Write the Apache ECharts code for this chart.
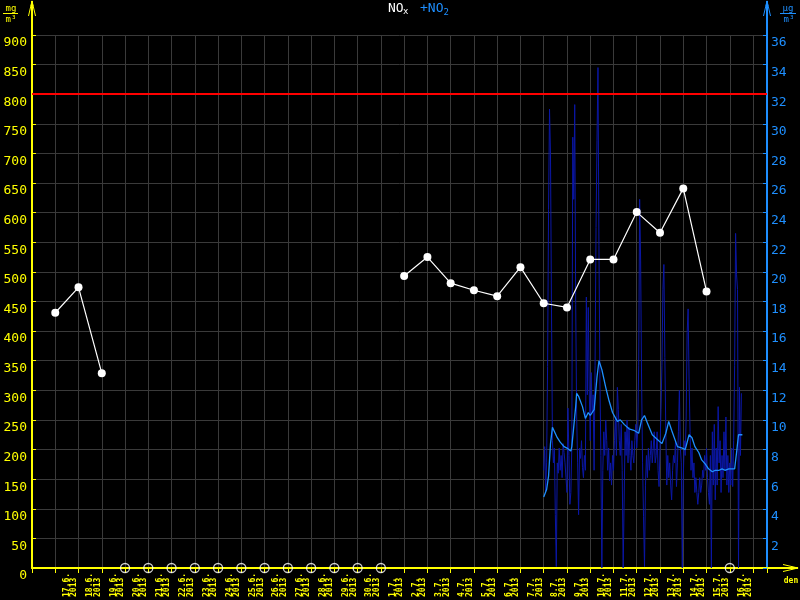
<!DOCTYPE html>
<html><head><meta charset="utf-8">
<script src="https://cdn.jsdelivr.net/npm/echarts@6/dist/echarts.min.js"></script>
<style>html,body{margin:0;padding:0;background:#000}#c{width:800px;height:600px}</style>
</head><body><div id="c"></div>
<script>
// ---------- data ----------
const year = '2013';
const dayLabels = ['17.6.','18.6.','19.6.','20.6.','21.6.','22.6.','23.6.','24.6.','25.6.','26.6.',
  '27.6.','28.6.','29.6.','30.6.','1.7.','2.7.','3.7.','4.7.','5.7.','6.7.','7.7.','8.7.','9.7.',
  '10.7.','11.7.','12.7.','13.7.','14.7.','15.7.','16.7.'];
// NOx daily values (left axis), null = no data
const noxDaily = [431, 474, 329, null, null, null, null, null, null, null, null, null, null, null, null,
  493, 525, 481, 469, 459, 508, 447, 440, 521, 521, 601, 566, 641, 467, null];
const noxLimit = 800;
const leftTicks = [0, 900, 50];
const rightTicks = [0, 36, 2];
// NO2 hourly values (right axis), starting 8.7. 00:00
const no2StartDay = 21;
const no2Hourly = [
  6.6, 8.2, 5.2, 7.1, 13.6, 24.2, 31.0, 27.9, 17.8, 8.6,
  7.1, 8.1, 3.6, 0.1, 7.1, 6.4, 8.1, 6.6, 7.6, 6.1,
  8.4, 7.8,
  7.1, 6.1, 5.1, 10.8, 7.6, 4.3, 5.1, 8.2, 29.1, 24.9, 31.3, 17.8, 10.2, 7.1, 3.6, 8.1, 7.4, 8.6, 6.8, 6.1, 7.6, 6.6, 18.3, 11.7, 17.6,
  12.0,
  8.6, 13.2, 10.5, 11.7, 6.6, 13.7, 23.0, 28.9, 33.8, 21.8, 12.7, 7.6, 0, 6.6, 9.2, 7.6, 10.0,
  8.6, 6.6, 8.1, 5.9, 7.1, 5.6, 7.6,
  6.6, 8.6, 10.2, 7.6, 12.2, 10.7, 8.6, 7.6, 9.7, 6.6,
  0, 4.6, 9.2, 7.6, 10.0, 7.1, 9.5, 7.6, 6.6, 8.6,
  7.6, 7.1, 8.6, 9.7, 8.1, 9.2, 13.7, 24.9, 20.8, 12.7,
  7.1, 3.5, 0.1, 5.6, 7.6, 6.1, 8.1, 6.6, 7.6, 8.6,
  7.1, 8.1, 9.2, 7.1, 7.6, 9.2, 6.6, 5.5, 8.1, 10.7,
  13.7, 18.8, 20.5, 14.2, 9.2, 5.6, 7.6, 6.1, 7.1, 5.6,
  4.6, 6.6, 7.6,
  7.1,
  8.6, 5.5, 7.1, 9.2, 12.0, 8.1, 7.1, 0, 6.1, 8.6, 7.6, 10.2, 15.9, 17.5, 12.7, 9.2, 6.6, 8.1, 6.1, 7.1,
  5.1, 6.1, 5.1, 4.3, 5.1, 6.1, 5.1, 5.6, 6.6, 6.1, 7.6, 6.6, 8.1, 6.1, 5.1, 4.3, 7.6, 0, 9.2, 5.6,
  9.7, 4.6, 8.1, 5.6, 10.9, 7.1, 8.6, 5.1, 7.6, 6.1, 9.2, 6.6, 10.2, 5.6, 7.6, 5.1, 7.1, 5.6, 8.1, 5.5,
  8.6, 13.7, 22.6, 19.8, 18.8, 0, 12.2, 7.6, 11.8
];
// NO2 running mean (right axis): hour offsets from 8.7. 00:00 and values
const no2AvgHours = [0, 3, 5, 7, 9, 11, 14, 17, 21, 24, 28, 29, 33, 34, 36, 40, 43, 46, 48, 52,
  55, 57, 60, 64, 67, 71, 76, 79, 83, 88, 93, 98, 101, 104, 107, 112, 117, 122, 126, 129,
  132, 138, 143, 146, 150, 153, 156, 160, 163, 167, 170, 174, 177, 181, 184, 187, 191, 194, 197, 199,
  201, 202, 205];
const no2AvgValues = [4.8, 5.3, 6.2, 8.4, 9.5, 9.5, 8.8, 8.5, 8.2, 8.1, 7.9, 8.2, 10.9, 11.8, 11.6, 10.9, 10.1, 10.5, 10.3, 10.7,
  12.9, 14.0, 13.4, 12.2, 11.4, 10.5, 9.9, 10.0, 9.7, 9.4, 9.3, 9.1, 10.0, 10.3, 9.8, 9.0, 8.7, 8.4, 9.1, 9.9,
  9.3, 8.2, 8.1, 8.0, 9.0, 8.8, 8.2, 7.8, 7.3, 7.0, 6.7, 6.5, 6.6, 6.6, 6.7, 6.6, 6.7, 6.7, 6.7, 7.8,
  9.0, 9.1, 9.0];

// ---------- styles / layout ----------
const YEL = '#ffff00', BLUE = '#1e8fff', DARK = '#0b17a6', GRID = '#3a3a3a';
const MONO = '"DejaVu Sans Mono", monospace';
const L = 32, R = 767, T = 35, B = 568;

const chart = echarts.init(document.getElementById('c'), null, {renderer: 'canvas'});

const noxData = noxDaily.map((v, i) => [i, v === null ? '-' : v]);
const missing = [];
noxDaily.forEach((v, i) => { if (v === null) missing.push([i, 0]); });
const hourlyData = no2Hourly.map((v, h) => [no2StartDay + h / 24, v]);
const avgData = no2AvgHours.map((h, k) => [no2StartDay + h / 24, no2AvgValues[k]]);

function txt(x, y, text, color, size, extra) {
  return Object.assign({type: 'text', x: x, y: y, silent: true,
    style: Object.assign({text: text, fill: color, font: size + 'px ' + MONO, align: 'center', verticalAlign: 'middle'}, extra || {})});
}
function ln(x1, y1, x2, y2, color, w) {
  return {type: 'line', silent: true, shape: {x1, y1, x2, y2}, style: {stroke: color, lineWidth: w}};
}
function poly(pts, color, fill) {
  return fill ? {type: 'polygon', silent: true, shape: {points: pts}, style: {fill: color}}
              : {type: 'polyline', silent: true, shape: {points: pts}, style: {stroke: color, lineWidth: 1, fill: null}};
}

const option = {
  backgroundColor: '#000',
  animation: false,
  grid: {left: L, right: 800 - R, top: T, bottom: 600 - B, containLabel: false, outerBoundsMode: 'none'},
  xAxis: {
    type: 'value', min: -1, max: 30.6, interval: 1,
    axisLine: {show: true, onZero: false, lineStyle: {color: YEL, width: 2}},
    axisTick: {show: true, inside: false, length: 5, lineStyle: {color: YEL, width: 1}},
    splitLine: {show: true, lineStyle: {color: GRID, width: 1}},
    axisLabel: {
      show: true, rotate: 90, align: 'left', verticalAlign: 'top', padding: [8, 0, 0, 0],
      margin: 29, color: YEL, fontFamily: MONO, fontSize: 8, fontWeight: 'bold', lineHeight: 7.4,
      hideOverlap: false, showMinLabel: true, showMaxLabel: true,
      formatter: function (v) {
        const i = Math.round(v);
        if (Math.abs(v - i) > 1e-6 || i < 0 || i >= dayLabels.length) return '';
        return dayLabels[i] + '\n' + year;
      }
    }
  },
  yAxis: [{
    type: 'value', position: 'left', min: leftTicks[0], max: leftTicks[1], interval: leftTicks[2],
    axisLine: {show: true, onZero: false, lineStyle: {color: YEL, width: 2}},
    axisTick: {show: true, inside: true, length: 4, lineStyle: {color: YEL}},
    splitLine: {show: true, lineStyle: {color: GRID, width: 1}},
    axisLabel: {color: YEL, fontFamily: MONO, fontSize: 13, lineHeight: 16, verticalAlign: 'top', margin: 5,
      showMinLabel: true, showMaxLabel: true, hideOverlap: false}
  }, {
    type: 'value', position: 'right', min: rightTicks[0], max: rightTicks[1], interval: rightTicks[2],
    axisLine: {show: true, onZero: false, lineStyle: {color: BLUE, width: 2}},
    axisTick: {show: true, inside: true, length: 4, lineStyle: {color: BLUE}},
    splitLine: {show: false},
    axisLabel: {color: BLUE, fontFamily: MONO, fontSize: 13, lineHeight: 16, verticalAlign: 'top', margin: 4,
      showMinLabel: true, showMaxLabel: true, hideOverlap: false,
      formatter: v => (v === 0 ? '' : String(v))}
  }],
  series: [{
    name: 'NO2 hourly', type: 'line', yAxisIndex: 1, data: hourlyData, showSymbol: false, symbol: 'none',
    lineStyle: {color: DARK, width: 1}, itemStyle: {color: DARK}, z: 2, silent: true
  }, {
    name: 'NO2 mean', type: 'line', yAxisIndex: 1, data: avgData, showSymbol: false, symbol: 'none',
    lineStyle: {color: BLUE, width: 1.3}, itemStyle: {color: BLUE}, z: 3, silent: true
  }, {
    name: 'NOx', type: 'line', yAxisIndex: 0, data: noxData, connectNulls: false,
    symbol: 'circle', symbolSize: 8, showSymbol: true,
    lineStyle: {color: '#fff', width: 1.2}, itemStyle: {color: '#fff'}, z: 4, silent: true,
    markLine: {silent: true, symbol: ['none', 'none'], label: {show: false},
      lineStyle: {color: '#ff0000', width: 2, type: 'solid'}, data: [{yAxis: noxLimit}]}
  }, {
    name: 'missing', type: 'scatter', yAxisIndex: 0, data: missing, symbol: 'circle', symbolSize: 9,
    clip: false, itemStyle: {color: 'rgba(0,0,0,0)', borderColor: '#fff', borderWidth: 1.3}, z: 5, silent: true
  }],
  graphic: [
    // axis extensions with arrows
    ln(L, T, L, 1, YEL, 2), poly([[28.5, 16], [L, 1], [35.5, 16]], YEL), poly([[30.5, 6], [L, 0], [33.5, 6]], YEL, true),
    ln(R, T, R, 1, BLUE, 2), poly([[R - 3.5, 16], [R, 1], [R + 3.5, 16]], BLUE), poly([[R - 1.5, 6], [R, 0], [R + 1.5, 6]], BLUE, true),
    ln(R, B, 798, B, YEL, 2), poly([[783, 564.5], [798, B], [783, 571.5]], YEL), poly([[791, 566.5], [799, B], [791, 569.5]], YEL, true),
    txt(791, 580.5, 'den', YEL, 8, {font: 'bold 8px ' + MONO}),
    // units
    txt(11, 9, 'mg', YEL, 9), ln(3, 13.5, 18, 13.5, YEL, 1), txt(11, 20, 'm³', YEL, 9),
    txt(788, 9, 'µg', BLUE, 9), ln(780, 13.5, 796, 13.5, BLUE, 1), txt(789, 20, 'm³', BLUE, 9),
    // title
    txt(388, 8.8, 'NO', '#fff', 13, {align: 'left'}), txt(403, 12, 'x', '#fff', 9, {align: 'left'}),
    txt(420, 8.8, '+NO', BLUE, 13, {align: 'left'}), txt(443.5, 12.5, '2', BLUE, 9, {align: 'left'})
  ]
};
chart.setOption(option);
</script></body></html>
